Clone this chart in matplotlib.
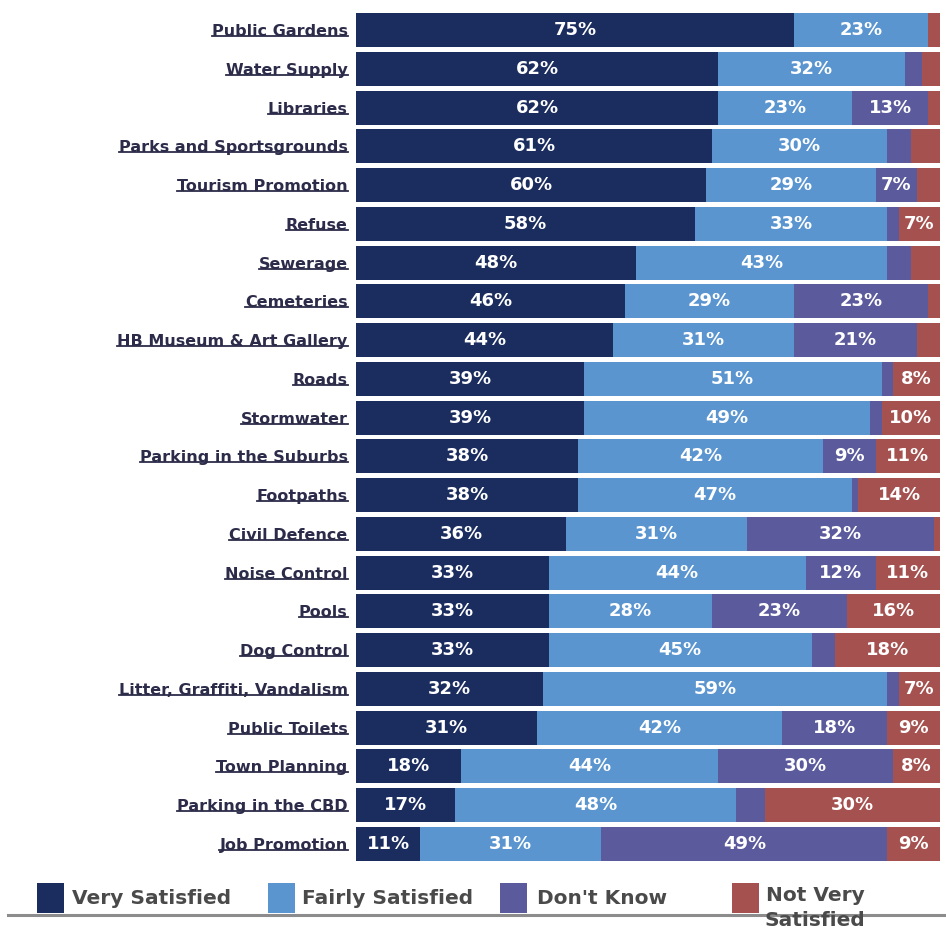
#!/usr/bin/env python3
"""Resident satisfaction with council services, stacked 100% horizontal bars."""
import numpy as np
import matplotlib
matplotlib.use("Agg")
import matplotlib.pyplot as plt
from matplotlib.patches import Rectangle
from matplotlib.lines import Line2D

W, H = 946, 933

services = ["Public Gardens", "Water Supply", "Libraries", "Parks and Sportsgrounds",
            "Tourism Promotion", "Refuse", "Sewerage", "Cemeteries",
            "HB Museum & Art Gallery", "Roads", "Stormwater", "Parking in the Suburbs",
            "Footpaths", "Civil Defence", "Noise Control", "Pools", "Dog Control",
            "Litter, Graffiti, Vandalism", "Public Toilets", "Town Planning",
            "Parking in the CBD", "Job Promotion"]
very_satisfied = [75, 62, 62, 61, 60, 58, 48, 46, 44, 39, 39, 38, 38, 36, 33, 33, 33, 32, 31, 18, 17, 11]
fairly_satisfied = [23, 32, 23, 30, 29, 33, 43, 29, 31, 51, 49, 42, 47, 31, 44, 28, 45, 59, 42, 44, 48, 31]
dont_know = [0, 3, 13, 4, 7, 2, 4, 23, 21, 2, 2, 9, 1, 32, 12, 23, 4, 2, 18, 30, 5, 49]
not_very_satisfied = [2, 3, 2, 5, 4, 7, 5, 2, 4, 8, 10, 11, 14, 1, 11, 16, 18, 7, 9, 8, 30, 9]

SERIES = [("Very Satisfied", very_satisfied, "#1b2d5f"),
          ("Fairly Satisfied", fairly_satisfied, "#5a95d0"),
          ("Don't Know", dont_know, "#5b5a9c"),
          ("Not Very\nSatisfied", not_very_satisfied, "#a4514f")]


def px(x, y):
    """Pixel position (from top-left) -> figure fraction."""
    return x / W, 1 - y / H


def main():
    fig = plt.figure(figsize=(W / 100, H / 100), dpi=100)
    x0, y0 = px(356, 861)
    x1, y1 = px(940, 13)
    ax = fig.add_axes([x0, y0, x1 - x0, y1 - y0])

    y = np.arange(len(services))
    h = 0.88
    left = np.zeros(len(services))
    for name, vals, c in SERIES:
        vals = np.array(vals, dtype=float)
        bars = ax.barh(y, vals, left=left, height=h, color=c, edgecolor="none")
        for rect, v in zip(bars, vals):
            if v >= 7:
                ax.text(rect.get_x() + rect.get_width() / 2, rect.get_y() + rect.get_height() / 2,
                        f"{v:.0f}%", ha="center", va="center", color="white",
                        fontsize=13, fontweight="bold")
        left += vals

    ax.set_xlim(0, 100)
    ax.set_ylim(len(services) - 1 + h / 2, -h / 2)
    ax.set_yticks(y)
    ax.set_yticklabels(services, fontsize=11.5, fontweight="bold", color="#2c2c4a")
    ax.tick_params(axis="y", length=0, pad=6)
    ax.set_xticks([])
    for s in ax.spines.values():
        s.set_visible(False)

    # underline the service names, just under the baseline
    fig.canvas.draw()
    inv = fig.transFigure.inverted()
    for lab in ax.get_yticklabels():
        bb = lab.get_window_extent()
        (a, b), (c, d) = inv.transform([(bb.x0, bb.y0 + 3), (bb.x1, bb.y0 + 3)])
        fig.add_artist(Line2D([a, c], [b, d], color="#2c2c4a", lw=1.3))

    # legend row along the bottom
    fig.add_artist(Line2D([px(8, 0)[0], 1.0], [px(0, 915)[1]] * 2, color="#8c8c8c", lw=2.2))
    sq_x = [37, 268, 500, 732]
    tx_x = [72, 302, 537, 815]
    for (name, _, c), sx, tx in zip(SERIES, sq_x, tx_x):
        rx, ry = px(sx, 913)
        fig.add_artist(Rectangle((rx, ry), 27 / W, 30 / H, transform=fig.transFigure,
                                 facecolor=c, edgecolor="none"))
        if "\n" in name:
            fig.text(*px(tx, 886), name, ha="center", va="top", multialignment="center",
                     fontsize=14.5, fontweight="bold", color="#4a4a4a", linespacing=1.4)
        else:
            fig.text(*px(tx, 899), name, ha="left", va="center",
                     fontsize=14.5, fontweight="bold", color="#4a4a4a")

    fig.savefig("out.png", dpi=100)


if __name__ == "__main__":
    main()
